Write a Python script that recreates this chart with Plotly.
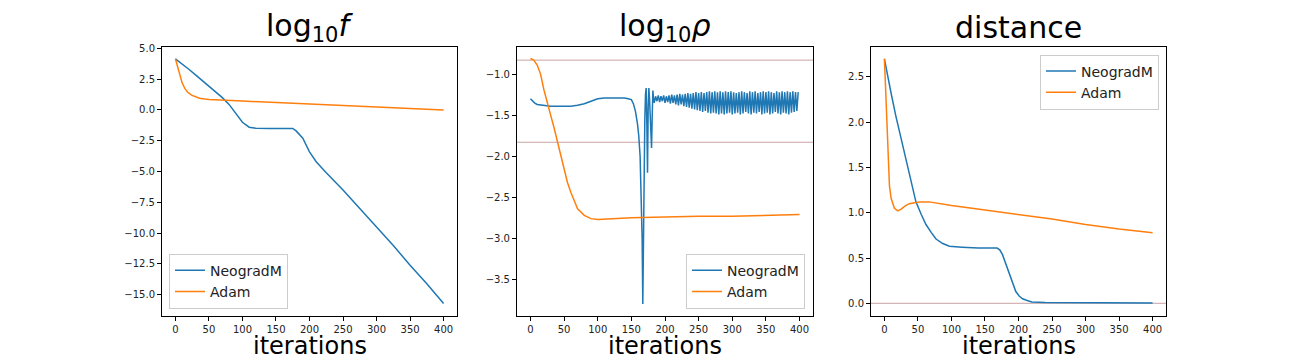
import plotly.graph_objects as go

# ---------------------------------------------------------------------------
# Data (iterations vs. metric)
# ---------------------------------------------------------------------------

# panel 1: log10 f
f_neo_x = [0, 10, 20, 30, 40, 50, 60, 70, 80, 90, 100, 110, 120, 140, 160, 175,
           180, 190, 200, 210, 225, 250, 275, 300, 325, 350, 375, 400]
f_neo_y = [4.15, 3.75, 3.3, 2.85, 2.4, 1.95, 1.5, 1.0, 0.45, -0.3, -1.0, -1.4,
           -1.48, -1.5, -1.5, -1.5, -1.7, -2.3, -3.4, -4.2, -5.1, -6.5, -8.0,
           -9.5, -11.0, -12.6, -14.1, -15.7]
f_adam_x = [0, 3, 6, 10, 14, 18, 24, 30, 36, 44, 50, 100, 150, 200, 250, 300, 350, 400]
f_adam_y = [4.15, 3.5, 2.9, 2.2, 1.75, 1.45, 1.2, 1.05, 0.95, 0.88, 0.85, 0.72,
            0.6, 0.48, 0.36, 0.24, 0.12, 0.0]

# panel 2: log10 rho
rho_neo_x = [0, 3, 6, 10, 20, 30, 40, 50, 60, 70, 80, 90, 100, 110, 120, 130, 140,
             145, 150, 153, 156, 159, 161, 163, 165, 166, 167, 168, 169, 170, 171,
             172, 173, 174, 175, 176, 177, 178, 179, 180, 181, 182, 183, 184]
rho_neo_y = [-1.30, -1.33, -1.35, -1.37, -1.38, -1.39, -1.39, -1.39, -1.39, -1.38,
             -1.36, -1.33, -1.30, -1.29, -1.29, -1.29, -1.29, -1.30, -1.31, -1.36,
             -1.45, -1.6, -1.75, -2.0, -2.5, -3.0, -3.8, -2.9, -2.0, -1.55, -1.25,
             -1.17, -1.6, -2.2, -1.4, -1.17, -1.3, -1.5, -1.75, -1.9, -1.5, -1.2,
             -1.3, -1.35]
# oscillating tail, every 2 iterations from 186 to 398
rho_osc_x = list(range(186, 400, 2))
rho_osc_y = [
    -1.27, -1.33, -1.26, -1.34, -1.27, -1.33, -1.26, -1.35, -1.27, -1.34,
    -1.26, -1.36, -1.25, -1.35, -1.26, -1.37, -1.25, -1.38, -1.24, -1.37,
    -1.25, -1.39, -1.24, -1.40, -1.23, -1.41, -1.24, -1.42, -1.23, -1.43,
    -1.22, -1.44, -1.23, -1.45, -1.22, -1.46, -1.23, -1.45, -1.22, -1.47,
    -1.21, -1.48, -1.22, -1.47, -1.21, -1.48, -1.22, -1.49, -1.21, -1.48,
    -1.22, -1.49, -1.21, -1.48, -1.22, -1.47, -1.21, -1.49, -1.22, -1.48,
    -1.23, -1.47, -1.22, -1.49, -1.21, -1.48, -1.22, -1.46, -1.23, -1.48,
    -1.21, -1.49, -1.22, -1.47, -1.21, -1.48, -1.23, -1.46, -1.22, -1.49,
    -1.21, -1.48, -1.22, -1.47, -1.21, -1.49, -1.22, -1.48, -1.23, -1.46,
    -1.21, -1.48, -1.22, -1.49, -1.21, -1.47, -1.22, -1.48, -1.21, -1.49,
    -1.22, -1.47, -1.21, -1.46, -1.22, -1.45, -1.22,
]
rho_adam_x = [0, 5, 10, 15, 20, 25, 30, 35, 40, 45, 50, 55, 60, 65, 70, 80, 90,
              100, 150, 200, 250, 300, 350, 400]
rho_adam_y = [-0.81, -0.83, -0.89, -1.0, -1.19, -1.36, -1.50, -1.65, -1.82, -1.99,
              -2.16, -2.32, -2.44, -2.55, -2.64, -2.72, -2.76, -2.77, -2.75, -2.74,
              -2.73, -2.73, -2.72, -2.71]
rho_hlines = [-0.83, -1.83]

# panel 3: distance
d_neo_x = [0, 5, 10, 17, 25, 32, 40, 47, 55, 62, 70, 77, 87, 97, 116, 140, 168,
           172, 176, 181, 186, 191, 196, 201, 206, 213, 220, 240, 300, 400]
d_neo_y = [2.70, 2.50, 2.32, 2.07, 1.82, 1.59, 1.35, 1.12, 0.98, 0.87, 0.78, 0.71,
           0.66, 0.63, 0.62, 0.61, 0.61, 0.59, 0.54, 0.44, 0.33, 0.22, 0.13, 0.08,
           0.05, 0.03, 0.015, 0.008, 0.005, 0.004]
d_adam_x = [0, 2.5, 5, 7.5, 10, 15, 20, 25, 30, 37, 45, 52, 67, 100, 150, 200,
            250, 300, 350, 400]
d_adam_y = [2.70, 2.21, 1.67, 1.30, 1.16, 1.05, 1.02, 1.04, 1.07, 1.10, 1.11,
            1.12, 1.12, 1.08, 1.03, 0.98, 0.93, 0.87, 0.82, 0.78]
d_hlines = [0.0]

titles = ["log<sub>10</sub><i>f</i>", "log<sub>10</sub><i>ρ</i>", "distance"]
series_names = ["NeogradM", "Adam"]

# ---------------------------------------------------------------------------
# Styling
# ---------------------------------------------------------------------------
# the page body has an 8px margin, so the figure is drawn at (8, 8) in the
# window; size it and place everything in window pixels minus that offset
OFF = 8
W, H = 1296 - OFF, 360 - OFF
BLUE = "#1f77b4"
ORANGE = "#ff7f0e"
HLINE = "#c9a3a3"
FONT = "DejaVu Sans"


def px(x):
    return (x - OFF) / W


def py(y):
    return 1 - (y - OFF) / H


# axes boxes in window pixels: (left, right)
boxes = [(162, 457), (517, 813), (871, 1166)]
top_px, bot_px = 43, 315
yranges = [[-16.68, 5.14], [-3.94, -0.665], [-0.135, 2.835]]
ydticks = [2.5, 0.5, 0.5]

fig = go.Figure()

panels = [
    (f_neo_x, f_neo_y, f_adam_x, f_adam_y),
    (rho_neo_x + rho_osc_x, rho_neo_y + rho_osc_y, rho_adam_x, rho_adam_y),
    (d_neo_x, d_neo_y, d_adam_x, d_adam_y),
]

for i, (nx, ny, ax_, ay) in enumerate(panels):
    sfx = "" if i == 0 else str(i + 1)
    leg = "legend" + sfx
    fig.add_trace(go.Scatter(x=nx, y=ny, mode="lines", name=series_names[0],
                             line=dict(color=BLUE, width=1.5),
                             xaxis="x" + sfx, yaxis="y" + sfx, legend=leg))
    fig.add_trace(go.Scatter(x=ax_, y=ay, mode="lines", name=series_names[1],
                             line=dict(color=ORANGE, width=1.5),
                             xaxis="x" + sfx, yaxis="y" + sfx, legend=leg))

# horizontal reference lines
for sfx, vals in (("2", rho_hlines), ("3", d_hlines)):
    for v in vals:
        fig.add_shape(type="line", xref="x" + sfx + " domain", yref="y" + sfx,
                      x0=0, x1=1, y0=v, y1=v, line=dict(color=HLINE, width=1),
                      layer="below")

axis_common = dict(showgrid=False, zeroline=False, showline=True, mirror=True,
                   linecolor="black", linewidth=1, ticks="outside", ticklen=4,
                   tickwidth=1, tickcolor="black",
                   tickfont=dict(family=FONT, size=10, color="#222"))

layout = dict(
    width=W, height=H,
    margin=dict(l=0, r=0, t=0, b=0),
    plot_bgcolor="white", paper_bgcolor="white",
    font=dict(family=FONT),
    showlegend=True,
)

y_dom = [py(bot_px), py(top_px)]
for i, (l, r) in enumerate(boxes):
    sfx = "" if i == 0 else str(i + 1)
    layout["xaxis" + sfx] = dict(axis_common, domain=[px(l), px(r)],
                                 range=[-20, 420], tick0=0, dtick=50,
                                 anchor="y" + sfx)
    layout["yaxis" + sfx] = dict(axis_common, domain=y_dom, range=yranges[i],
                                 tick0=0, dtick=ydticks[i], tickformat=".1f",
                                 anchor="x" + sfx)

leg_common = dict(font=dict(family=FONT, size=14, color="#222"),
                  bgcolor="rgba(255,255,255,0.8)", bordercolor="#cccccc",
                  borderwidth=1, tracegroupgap=0, itemwidth=30)
layout["legend"] = dict(leg_common, x=px(169), y=py(308),
                        xanchor="left", yanchor="bottom")
layout["legend2"] = dict(leg_common, x=px(805), y=py(308),
                         xanchor="right", yanchor="bottom")
layout["legend3"] = dict(leg_common, x=px(1159), y=py(51),
                         xanchor="right", yanchor="top")

fig.update_layout(**layout)

for i, (l, r) in enumerate(boxes):
    cx = px((l + r) / 2)
    fig.add_annotation(text=titles[i], xref="paper", yref="paper", x=cx,
                       y=py(24), xanchor="center", yanchor="middle",
                       showarrow=False, font=dict(family=FONT, size=30, color="black"))
    fig.add_annotation(text="iterations", xref="paper", yref="paper", x=cx,
                       y=py(345.5), xanchor="center", yanchor="middle",
                       showarrow=False, font=dict(family=FONT, size=24, color="black"))

fig.write_html("out.html")
